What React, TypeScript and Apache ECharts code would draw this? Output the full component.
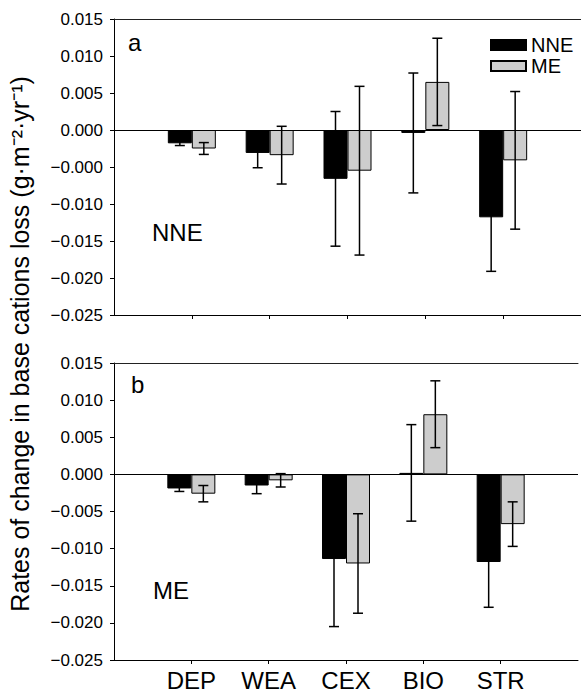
import React, { useEffect, useRef } from 'react';
import * as echarts from 'echarts';

const categories = ['DEP', 'WEA', 'CEX', 'BIO', 'STR'];

// Panel a (NNE)
const nneA = [-0.0018, -0.0031, -0.0066, -0.0004, -0.0118];
const nneAErr = [0.0003, 0.002, 0.0091, 0.0081, 0.0073];
const meA = [-0.0025, -0.0034, -0.0055, 0.0065, -0.0041];
const meAErr = [0.0008, 0.0039, 0.0114, 0.0059, 0.0093];

// Panel b (ME)
const nneB = [-0.0019, -0.0015, -0.0114, 0.0002, -0.0118];
const nneBErr = [0.0004, 0.0011, 0.0091, 0.0065, 0.0061];
const meB = [-0.0026, -0.0008, -0.012, 0.0081, -0.0067];
const meBErr = [0.0011, 0.0009, 0.0067, 0.0045, 0.003];

const tickLabelsA = ['−0.025', '−0.020', '−0.015', '−0.010', '−0.000', '0.000', '0.005', '0.010', '0.015'];
const tickLabelsB = ['−0.025', '−0.020', '−0.015', '−0.010', '−0.005', '0.000', '0.005', '0.010', '0.015'];

const Y_MIN = -0.025;
const Y_MAX = 0.015;
const Y_STEP = 0.005;

const FONT = 'Arial, "Liberation Sans", Helvetica, sans-serif';
const GRAY = '#cdcdcd';

export default function App() {
  const ref = useRef<HTMLDivElement>(null);

  useEffect(() => {
    document.body.style.margin = '0';
    document.body.style.overflow = 'hidden';
    if (!ref.current) return;
    const chart = echarts.init(ref.current, null, { renderer: 'svg' });

    const xData = ['', ...categories, ''];
    const pad = (arr: number[]) => ['-', ...arr, '-'];

    const xAxis = (idx: number, showLabels: boolean) => ({
      type: 'category',
      gridIndex: idx,
      data: xData,
      boundaryGap: false,
      axisLine: { onZero: false, lineStyle: { color: '#000', width: 1 } },
      axisTick: {
        show: true,
        length: 4,
        interval: (i: number) => i > 0 && i < xData.length - 1,
        lineStyle: { color: '#000' },
      },
      axisLabel: {
        show: showLabels,
        interval: 0,
        margin: 8,
        color: '#000',
        fontSize: 24,
        fontFamily: FONT,
      },
      splitLine: { show: false },
    });

    const topFrame = (idx: number) => ({
      type: 'category',
      gridIndex: idx,
      position: 'top',
      data: xData,
      boundaryGap: false,
      axisLine: { onZero: false, lineStyle: { color: '#222', width: 1 } },
      axisTick: { show: false },
      axisLabel: { show: false },
      splitLine: { show: false },
    });

    const yAxis = (idx: number, labels: string[]) => ({
      type: 'value',
      gridIndex: idx,
      min: Y_MIN,
      max: Y_MAX,
      interval: Y_STEP,
      axisLine: { show: true, lineStyle: { color: '#000', width: 1 } },
      axisTick: { show: true, length: 4, lineStyle: { color: '#000' } },
      axisLabel: {
        margin: 11,
        color: '#000',
        fontSize: 17,
        fontFamily: FONT,
        formatter: (v: number) => labels[Math.round((v - Y_MIN) / Y_STEP)] ?? '',
      },
      splitLine: { show: false },
    });

    const bars = (idx: number, name: string, vals: number[], color: string, zeroLine: boolean) => ({
      type: 'bar',
      name,
      xAxisIndex: idx,
      yAxisIndex: idx,
      data: pad(vals),
      barWidth: 24,
      barGap: '0%',
      itemStyle: { color, borderColor: '#000', borderWidth: 1 },
      z: 2,
      silent: true,
      markLine: zeroLine
        ? {
            silent: true,
            symbol: ['none', 'none'],
            label: { show: false },
            lineStyle: { color: '#000', width: 1, type: 'solid' },
            data: [{ yAxis: 0 }],
          }
        : undefined,
    });

    const errs = (idx: number, means: number[], e: number[], offset: number) => ({
      type: 'custom',
      xAxisIndex: idx,
      yAxisIndex: idx,
      z: 10,
      silent: true,
      encode: { x: 0, y: 1 },
      data: means.map((m, i) => [i + 1, m, e[i]]),
      renderItem: (_p: any, api: any) => {
        const x = api.value(0);
        const m = api.value(1);
        const er = api.value(2);
        const p1 = api.coord([x, m + er]);
        const p2 = api.coord([x, m - er]);
        const cx = p1[0] + offset;
        const st = { stroke: '#000', lineWidth: 1.5 };
        return {
          type: 'group',
          children: [
            { type: 'line', shape: { x1: cx, y1: p1[1], x2: cx, y2: p2[1] }, style: st },
            { type: 'line', shape: { x1: cx - 5, y1: p1[1], x2: cx + 5, y2: p1[1] }, style: st },
            { type: 'line', shape: { x1: cx - 5, y1: p2[1], x2: cx + 5, y2: p2[1] }, style: st },
          ],
        };
      },
    });

    const textStyle = (size: number) => ({ fill: '#000', font: `${size}px ${FONT}` });

    chart.setOption({
      animation: false,
      grid: [
        { left: 114, top: 19, width: 470, height: 296 },
        { left: 114, top: 363, width: 470, height: 297 },
      ],
      xAxis: [xAxis(0, false), xAxis(1, true), topFrame(0), topFrame(1)],
      yAxis: [yAxis(0, tickLabelsA), yAxis(1, tickLabelsB)],
      legend: {
        data: ['NNE', 'ME'],
        orient: 'vertical',
        left: 490,
        top: 35,
        padding: 0,
        itemWidth: 35,
        itemHeight: 10,
        itemGap: 1,
        icon: 'rect',
        selectedMode: false,
        textStyle: { color: '#000', fontSize: 20, fontFamily: FONT, lineHeight: 20 },
      },
      series: [
        bars(0, 'NNE', nneA, '#000', true),
        bars(0, 'ME', meA, GRAY, false),
        errs(0, nneA, nneAErr, -12),
        errs(0, meA, meAErr, 12),
        bars(1, 'NNE', nneB, '#000', true),
        bars(1, 'ME', meB, GRAY, false),
        errs(1, nneB, nneBErr, -12),
        errs(1, meB, meBErr, 12),
      ],
      graphic: [
        { type: 'text', left: 128, top: 30, style: { text: 'a', ...textStyle(24) } },
        { type: 'text', left: 131, top: 372, style: { text: 'b', ...textStyle(24) } },
        { type: 'text', left: 152, top: 220, style: { text: 'NNE', ...textStyle(24) } },
        { type: 'text', left: 153, top: 578, style: { text: 'ME', ...textStyle(24) } },
        {
          type: 'text',
          x: 20,
          y: 344,
          rotation: Math.PI / 2,
          style: {
            text: 'Rates of change in base cations loss (g·m⁻²·yr⁻¹)',
            align: 'center',
            verticalAlign: 'middle',
            ...textStyle(25),
          },
        },
      ],
    });

    return () => chart.dispose();
  }, []);

  return <div ref={ref} style={{ width: 581, height: 692 }} />;
}
